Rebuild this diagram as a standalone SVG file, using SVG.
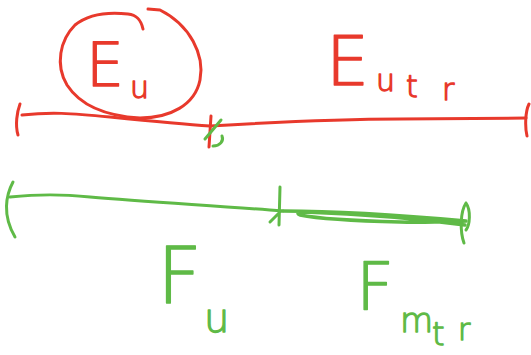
<svg xmlns="http://www.w3.org/2000/svg" width="531" height="355" viewBox="0 0 531 355">
<style>
.r{fill:none;stroke:#e8392c;stroke-width:3;stroke-linecap:round;stroke-linejoin:round}
.g{fill:none;stroke:#5fba47;stroke-width:3;stroke-linecap:round;stroke-linejoin:round}
.tr{fill:#e8392c;stroke:#e8392c;stroke-width:1.3;stroke-linejoin:round;font-family:"DejaVu Sans","Liberation Sans",sans-serif;font-weight:200}
.tg{fill:#5fba47;stroke:#5fba47;stroke-width:1.3;stroke-linejoin:round;font-family:"DejaVu Sans","Liberation Sans",sans-serif;font-weight:200}
</style>
<rect width="531" height="355" fill="#fff"/>
<g id="connectors">
<path class="r" d="M22,115 C50,112 70,113 110,117 C150,121 180,124 210,126 C260,123 330,119 400,119 C450,119 490,118 526,118"/>
<path class="r" d="M20,104 C17,112 15,125 18,135"/>
<path class="r" d="M529,104 C525,112 525,128 527,136"/>
<path class="r" d="M211,116 L209,147"/>
<path class="g" d="M205,139 L221,120"/>
<path class="g" d="M213,146 C220,146 224,141 222,136"/>
<path class="g" d="M10,197 C40,194 60,194 90,197 C150,202 220,206 283,211"/>
<path class="g" d="M13,182 C6,195 2,215 15,237"/>
<path class="g" d="M280,187 L279,225 M270,222 L281,211"/>
<path class="g" style="stroke-width:3.5" d="M283,211 C330,211 400,215 466,221 C440,222 420,223 400,222 C360,221 320,219 300,215 C296,213 298,212 305,212 C360,214 420,219 465,225"/>
<path class="g" d="M466,203 C460,212 460,232 464,243 M466,203 C471,210 470,225 466,230"/>
</g>
<g id="Eu">
<path class="r" d="M143,29 C141,20 137,15 128,14 C110,12 90,13 75,25 C60,40 55,65 67,85 C80,105 105,116 140,118 C170,118 195,105 200,80 C205,55 190,25 160,10 L148,9"/>
<text class="tr" x="86" y="86" font-size="60">E</text>
<text class="tr" x="130" y="98" font-size="30">u</text>
</g>
<g id="Eutr">
<text class="tr" x="326" y="85" font-size="68">E</text>
<text class="tr" x="376" y="91" font-size="30">u</text>
<text class="tr" x="406" y="97" font-size="30">t</text>
<text class="tr" x="442" y="100" font-size="30">r</text>
</g>
<g id="Fu">
<text class="tg" x="157" y="303" font-size="78">F</text>
<text class="tg" x="204" y="332" font-size="40">u</text>
</g>
<g id="Fmtr">
<text class="tg" x="356" y="309" font-size="66">F</text>
<text class="tg" x="400" y="332" font-size="34">m</text>
<text class="tg" x="432" y="345" font-size="32">t</text>
<text class="tg" x="458" y="340" font-size="30">r</text>
</g>
</svg>
